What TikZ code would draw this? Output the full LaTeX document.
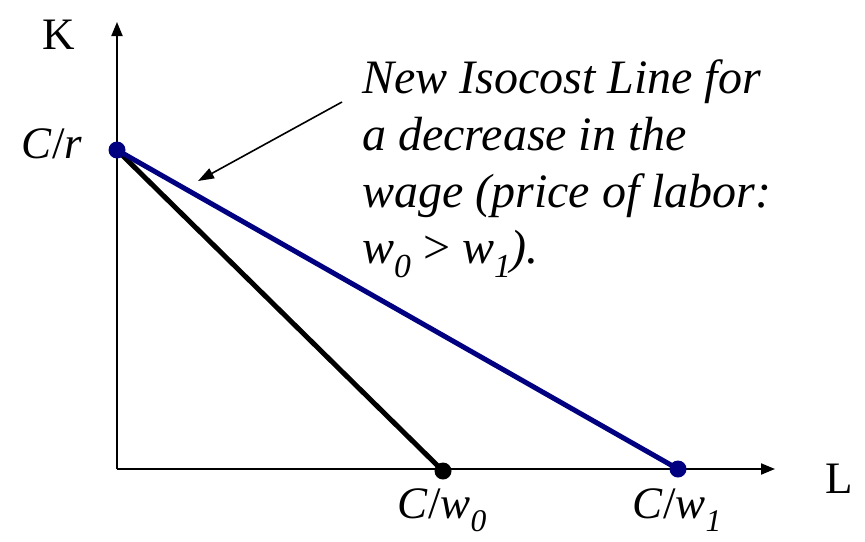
\documentclass[tikz,border=0pt]{standalone}
\usepackage{fontspec}
\setmainfont{Liberation Serif}
\usetikzlibrary{arrows.meta}
\definecolor{navyline}{RGB}{0,0,128}
\newcommand\mysub[1]{\raisebox{-0.3em}{\fontsize{0.7em}{0.7em}\selectfont #1}}
\begin{document}
\begin{tikzpicture}[x=1pt,y=-1pt,
  axis/.style={line width=2pt,-{Triangle[length=14pt,width=11pt]}},
  isoline/.style={line width=5pt},
  dotnode/.style={circle,inner sep=0pt,minimum size=17pt},
  lbl/.style={font=\fontsize{45}{52}\selectfont,inner sep=0pt},
  note/.style={font=\fontsize{48}{57}\selectfont\itshape,inner sep=0pt,anchor=base west}]
\useasboundingbox (0,0) rectangle (865,541);
\coordinate (O) at (117,469);
\coordinate (Ytop) at (117,22);
\coordinate (Xend) at (775,469);
\draw[axis] (O) -- (Ytop);
\draw[axis] (O) -- (Xend);
\coordinate (Cr) at (117,150);
\coordinate (Cw0) at (443,471);
\coordinate (Cw1) at (678,469);
\draw[isoline,black] (Cr) -- (Cw0);
\draw[isoline,navyline] (Cr) -- (Cw1);
\node[dotnode,fill=black] (d0) at (Cw0) {};
\node[dotnode,fill=navyline] (d1) at (Cw1) {};
\node[dotnode,fill=navyline] (dr) at (Cr) {};
\node[lbl] (K) at (59,35) {K};
\node[lbl] (L) at (839,479) {L};
\node[lbl,anchor=base] (lr) at (52,158) {\textit{C}/\textit{r}};
\node[lbl,anchor=base] (l0) at (442,518) {\textit{C}/\textit{w}\mysub{\textit{0}}};
\node[lbl,anchor=base] (l1) at (677,518) {\textit{C}/\textit{w}\mysub{\textit{1}}};
\node[note] (n1) at (362,93) {New Isocost Line for};
\node[note] (n2) at (362,150) {a decrease in the};
\node[note] (n3) at (362,207) {wage (price of labor:};
\node[note] (n4) at (362,263) {w\mysub{0} {\upshape >} w\mysub{1}).};
\coordinate (aS) at (342,102);
\coordinate (aE) at (198,181);
\draw[line width=1.6pt,-{Triangle[length=16pt,width=11pt]}] (aS) -- (aE);
\end{tikzpicture}
\end{document}
